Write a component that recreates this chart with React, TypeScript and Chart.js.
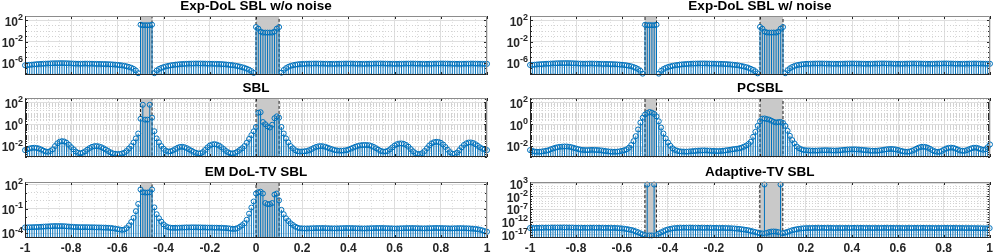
import React, { useEffect, useRef } from 'react';
import { Chart, registerables } from 'chart.js';

Chart.register(...registerables);

// ---------- data (log10 of the plotted magnitudes, x = -1 : 0.01 : 1) ----------
const X_START = -1;
const X_STEP = 0.01;
const X_COUNT = 201;
const xGrid: number[] = Array.from({ length: X_COUNT }, (_, i) => Math.round((X_START + i * X_STEP) * 100) / 100);

const xTickValues = [-1, -0.8, -0.6, -0.4, -0.2, 0, 0.2, 0.4, 0.6, 0.8, 1];
const xTickLabels = ['-1', '-0.8', '-0.6', '-0.4', '-0.2', '0', '0.2', '0.4', '0.6', '0.8', '1'];

const supportBoxes: [number, number][] = [[-0.5, -0.45], [0, 0.1]];

const expDolNoNoiseLog = [
  -6.5, -6.46, -6.42, -6.38, -6.34, -6.3, -6.27, -6.24, -6.21, -6.19,
  -6.17, -6.15, -6.13, -6.12, -6.11, -6.1, -6.1, -6.11, -6.12, -6.14,
  -6.16, -6.18, -6.2, -6.21, -6.21, -6.2, -6.19, -6.19, -6.2, -6.21,
  -6.23, -6.24, -6.25, -6.26, -6.27, -6.28, -6.3, -6.32, -6.35, -6.38,
  -6.42, -6.47, -6.53, -6.6, -6.7, -6.82, -6.97, -7.18, -7.5, -8.0,
  1.2, 1.1, 1.1, 1.1, 1.1, 1.2,
  -8.0, -7.5, -7.2, -7.0,
  -6.85, -6.72, -6.62, -6.53, -6.46, -6.4, -6.35, -6.3, -6.27, -6.24,
  -6.22, -6.2, -6.19, -6.18, -6.17, -6.17, -6.17, -6.18, -6.19, -6.2,
  -6.21, -6.22, -6.23, -6.24, -6.26, -6.28, -6.31, -6.35, -6.39, -6.44,
  -6.5, -6.57, -6.65, -6.75, -6.87, -7.0, -7.15, -7.35, -7.6, -7.95,
  0.75, 0.45, -0.1, -0.3, -0.3, -0.3, -0.3, -0.3, -0.1, 0.45, 0.75,
  -7.9, -7.4, -7.05, -6.8, -6.62, -6.5, -6.4, -6.33, -6.28,
  -6.25, -6.23, -6.21, -6.2, -6.19, -6.18, -6.18, -6.18, -6.19, -6.2,
  -6.21, -6.22, -6.23, -6.23, -6.23, -6.22, -6.21, -6.2, -6.19, -6.18,
  -6.18, -6.18, -6.19, -6.2, -6.21, -6.22, -6.23, -6.23, -6.22, -6.21,
  -6.2, -6.19, -6.18, -6.17, -6.17, -6.18, -6.19, -6.2, -6.21, -6.22,
  -6.23, -6.23, -6.22, -6.21, -6.2, -6.19, -6.18, -6.18, -6.18, -6.19,
  -6.2, -6.21, -6.22, -6.23, -6.23, -6.22, -6.21, -6.2, -6.19, -6.18,
  -6.17, -6.17, -6.18, -6.19, -6.2, -6.21, -6.22, -6.23, -6.23, -6.22,
  -6.21, -6.2, -6.19, -6.18, -6.18, -6.19, -6.2, -6.21, -6.22, -6.23,
  -6.24,
];

const expDolNoiseLog = [
  -6.45, -6.42, -6.39, -6.35, -6.31, -6.28, -6.25, -6.22, -6.2, -6.18,
  -6.16, -6.14, -6.12, -6.11, -6.1, -6.09, -6.09, -6.1, -6.11, -6.13,
  -6.15, -6.17, -6.19, -6.2, -6.2, -6.19, -6.18, -6.18, -6.19, -6.2,
  -6.22, -6.23, -6.24, -6.25, -6.26, -6.27, -6.29, -6.31, -6.34, -6.37,
  -6.41, -6.46, -6.52, -6.6, -6.7, -6.83, -7.0, -7.22, -7.55, -8.1,
  1.2, 1.1, 1.12, 1.1, 1.1, 1.2,
  -8.1, -7.55, -7.22, -7.0,
  -6.84, -6.71, -6.6, -6.52, -6.45, -6.39, -6.34, -6.3, -6.26, -6.23,
  -6.21, -6.19, -6.18, -6.17, -6.16, -6.16, -6.16, -6.17, -6.18, -6.19,
  -6.2, -6.21, -6.22, -6.23, -6.25, -6.27, -6.3, -6.34, -6.38, -6.43,
  -6.49, -6.56, -6.64, -6.74, -6.86, -7.0, -7.17, -7.38, -7.65, -8.05,
  0.78, 0.45, -0.1, -0.28, -0.3, -0.3, -0.29, -0.3, -0.1, 0.45, 0.75,
  -8.0, -7.45, -7.08, -6.82, -6.63, -6.5, -6.4, -6.33, -6.28,
  -6.24, -6.22, -6.2, -6.19, -6.18, -6.17, -6.17, -6.17, -6.18, -6.19,
  -6.2, -6.21, -6.22, -6.22, -6.22, -6.21, -6.2, -6.19, -6.18, -6.17,
  -6.17, -6.17, -6.18, -6.19, -6.2, -6.21, -6.22, -6.22, -6.21, -6.2,
  -6.19, -6.18, -6.17, -6.16, -6.16, -6.17, -6.18, -6.19, -6.2, -6.21,
  -6.22, -6.22, -6.21, -6.2, -6.19, -6.18, -6.17, -6.17, -6.17, -6.18,
  -6.19, -6.2, -6.21, -6.22, -6.22, -6.21, -6.2, -6.19, -6.18, -6.17,
  -6.16, -6.16, -6.17, -6.18, -6.19, -6.2, -6.21, -6.22, -6.22, -6.21,
  -6.2, -6.19, -6.18, -6.17, -6.17, -6.18, -6.19, -6.2, -6.21, -6.22,
  -6.22,
];

const sblLog = [
  -2.37, -2.3, -2.22, -2.17, -2.15, -2.17, -2.22, -2.32, -2.42, -2.5,
  -2.52, -2.45, -2.3, -2.0, -1.75, -1.6, -1.55, -1.58, -1.7, -1.88,
  -2.1, -2.3, -2.5, -2.62, -2.66, -2.6, -2.48, -2.33, -2.18, -2.07,
  -2.01, -2.0, -2.03, -2.1, -2.2, -2.32, -2.45, -2.57, -2.66, -2.71,
  -2.73, -2.72, -2.68, -2.6, -2.45, -2.22, -2.0, -1.67, -1.3, -0.85,
  0.5, 1.78, 0.42, 0.42, 1.78, 0.6,
  -0.64, -1.3, -1.67, -2.0,
  -2.25, -2.42, -2.5, -2.48, -2.4, -2.28, -2.16, -2.08, -2.06, -2.1,
  -2.18, -2.3, -2.42, -2.53, -2.62, -2.67, -2.66, -2.55, -2.35, -2.12,
  -1.95, -1.85, -1.82, -1.86, -1.96, -2.1, -2.27, -2.45, -2.58, -2.66,
  -2.67, -2.62, -2.5, -2.35, -2.2, -2.0, -1.7, -1.35, -1.0, -0.65,
  -0.25, 1.05, 1.1, 0.2, 0.0, -0.2, -0.3, -0.05, 0.55, 0.72, 0.6,
  -0.25, -0.85, -1.3, -1.67, -2.0, -2.2, -2.38, -2.48, -2.5,
  -2.5, -2.48, -2.45, -2.38, -2.28, -2.17, -2.08, -2.02, -2.0, -2.02,
  -2.07, -2.14, -2.22, -2.3, -2.36, -2.4, -2.42, -2.42, -2.41, -2.38,
  -2.32, -2.24, -2.15, -2.06, -1.99, -1.94, -1.91, -1.9, -1.91, -1.93,
  -1.99, -2.08, -2.2, -2.33, -2.44, -2.5, -2.5, -2.44, -2.3, -2.12,
  -1.95, -1.83, -1.77, -1.76, -1.8, -1.9, -2.06, -2.27, -2.48, -2.64,
  -2.72, -2.73, -2.64, -2.45, -2.2, -1.95, -1.76, -1.65, -1.61, -1.62,
  -1.7, -1.86, -2.08, -2.33, -2.56, -2.7, -2.72, -2.6, -2.38, -2.12,
  -1.9, -1.75, -1.68, -1.67, -1.72, -1.83, -1.98, -2.12, -2.24, -2.32,
  -2.37,
];

const pcsblLog = [
  -2.37, -2.45, -2.5, -2.52, -2.52, -2.5, -2.47, -2.43, -2.38, -2.3,
  -2.22, -2.15, -2.1, -2.07, -2.05, -2.04, -2.04, -2.06, -2.1, -2.16,
  -2.22, -2.28, -2.33, -2.36, -2.37, -2.37, -2.36, -2.35, -2.35, -2.36,
  -2.38, -2.4, -2.43, -2.46, -2.49, -2.51, -2.52, -2.52, -2.51, -2.48,
  -2.44, -2.38, -2.3, -2.15, -1.91, -1.55, -1.09, -0.48, 0.15, 0.6,
  0.88, 1.03, 1.12, 1.06, 0.94, 0.72,
  0.27, -0.3, -0.85, -1.3,
  -1.67, -1.97, -2.2, -2.35, -2.43, -2.48, -2.5, -2.51, -2.51, -2.5,
  -2.48, -2.46, -2.44, -2.42, -2.41, -2.4, -2.4, -2.41, -2.42, -2.44,
  -2.45, -2.46, -2.46, -2.45, -2.43, -2.4, -2.37, -2.34, -2.3, -2.27,
  -2.24, -2.2, -2.14, -2.06, -1.95, -1.8, -1.61, -1.15, -0.7, -0.15,
  0.27, 0.51, 0.53, 0.47, 0.42, 0.32, 0.22, 0.16, 0.2, 0.21, 0.12,
  -0.15, -0.6, -1.06, -1.45, -1.76, -2.04, -2.2, -2.3, -2.36,
  -2.39, -2.4, -2.41, -2.42, -2.42, -2.41, -2.4, -2.39, -2.38, -2.38,
  -2.39, -2.4, -2.41, -2.41, -2.4, -2.38, -2.36, -2.34, -2.32, -2.31,
  -2.3, -2.3, -2.31, -2.32, -2.34, -2.36, -2.38, -2.4, -2.42, -2.43,
  -2.43, -2.42, -2.4, -2.37, -2.33, -2.3, -2.28, -2.27, -2.28, -2.31,
  -2.36, -2.42, -2.47, -2.51, -2.52, -2.5, -2.44, -2.35, -2.24, -2.14,
  -2.08, -2.06, -2.08, -2.15, -2.26, -2.38, -2.48, -2.53, -2.52, -2.45,
  -2.33, -2.22, -2.16, -2.14, -2.16, -2.23, -2.32, -2.4, -2.44, -2.43,
  -2.37, -2.28, -2.2, -2.15, -2.15, -2.2, -2.28, -2.34, -2.3, -2.1,
  -1.85,
];

const emDolTvLog = [
  -3.3, -3.29, -3.28, -3.27, -3.26, -3.25, -3.24, -3.22, -3.2, -3.18,
  -3.17, -3.15, -3.14, -3.13, -3.13, -3.13, -3.14, -3.15, -3.17, -3.19,
  -3.21, -3.23, -3.25, -3.26, -3.27, -3.27, -3.27, -3.27, -3.28, -3.28,
  -3.29, -3.3, -3.3, -3.31, -3.32, -3.33, -3.34, -3.36, -3.4, -3.45,
  -3.5, -3.55, -3.6, -3.55, -3.38, -3.05, -2.62, -2.12, -1.3, -0.4,
  1.38, 1.04, 1.0, 1.0, 1.04, 1.38,
  -0.83, -1.67, -2.17, -2.58,
  -2.92, -3.15, -3.28, -3.33, -3.35, -3.35, -3.34, -3.33, -3.32, -3.31,
  -3.3, -3.3, -3.29, -3.29, -3.29, -3.3, -3.3, -3.31, -3.31, -3.32,
  -3.32, -3.32, -3.33, -3.33, -3.34, -3.35, -3.36, -3.38, -3.41, -3.45,
  -3.48, -3.47, -3.38, -3.22, -3.02, -2.78, -2.35, -1.6, -0.85, -0.1,
  0.88, 1.04, 1.1, 0.88, -0.29, -0.42, -0.42, -0.29, 0.75, 0.88, 0.04,
  -1.13, -1.67, -2.17, -2.5, -2.79, -3.0, -3.2, -3.33, -3.4,
  -3.42, -3.43, -3.43, -3.42, -3.41, -3.4, -3.39, -3.38, -3.38, -3.38,
  -3.39, -3.4, -3.41, -3.42, -3.42, -3.42, -3.41, -3.4, -3.39, -3.38,
  -3.38, -3.38, -3.39, -3.4, -3.41, -3.42, -3.43, -3.43, -3.42, -3.41,
  -3.4, -3.39, -3.38, -3.37, -3.37, -3.38, -3.39, -3.4, -3.41, -3.42,
  -3.43, -3.43, -3.42, -3.41, -3.4, -3.39, -3.38, -3.38, -3.38, -3.39,
  -3.4, -3.41, -3.42, -3.42, -3.41, -3.4, -3.39, -3.38, -3.37, -3.37,
  -3.38, -3.39, -3.4, -3.41, -3.42, -3.42, -3.41, -3.4, -3.39, -3.39,
  -3.4, -3.41, -3.42, -3.44, -3.46, -3.48, -3.52, -3.58, -3.66, -3.75,
  -3.83,
];

const adaptiveTvLog = [
  -14.4, -14.38, -14.36, -14.34, -14.32, -14.3, -14.28, -14.26, -14.25, -14.24,
  -14.23, -14.22, -14.21, -14.2, -14.2, -14.2, -14.21, -14.22, -14.23, -14.25,
  -14.27, -14.29, -14.3, -14.31, -14.31, -14.3, -14.29, -14.28, -14.28, -14.29,
  -14.3, -14.31, -14.32, -14.33, -14.34, -14.35, -14.36, -14.38, -14.42, -14.48,
  -14.55, -14.65, -14.78, -14.95, -15.15, -15.4, -15.7, -16.05, -16.45, -16.85,
  -17.2, 2.6, -17.3, -17.3, 2.6, -17.2,
  -16.6, -16.1, -15.65, -15.25,
  -14.95, -14.72, -14.56, -14.45, -14.38, -14.33, -14.3, -14.28, -14.27, -14.27,
  -14.27, -14.28, -14.29, -14.3, -14.31, -14.32, -14.32, -14.32, -14.32, -14.33,
  -14.34, -14.35, -14.36, -14.37, -14.38, -14.4, -14.43, -14.47, -14.52, -14.58,
  -14.65, -14.74, -14.85, -14.98, -15.13, -15.3, -15.5, -15.72, -15.95, -16.2,
  -16.4, -16.5, 2.6, -16.3, -16.0, -15.8, -15.75, -15.8, -16.0, 2.6, -16.4,
  -16.2, -15.9, -15.6, -15.3, -15.05, -14.85, -14.7, -14.58, -14.5,
  -14.45, -14.42, -14.4, -14.38, -14.37, -14.36, -14.35, -14.35, -14.35, -14.35,
  -14.36, -14.37, -14.38, -14.39, -14.4, -14.4, -14.39, -14.38, -14.37, -14.36,
  -14.35, -14.34, -14.34, -14.34, -14.35, -14.36, -14.37, -14.38, -14.39, -14.4,
  -14.4, -14.39, -14.38, -14.37, -14.36, -14.35, -14.35, -14.35, -14.36, -14.37,
  -14.38, -14.39, -14.4, -14.4, -14.39, -14.38, -14.37, -14.36, -14.35, -14.34,
  -14.34, -14.35, -14.36, -14.37, -14.38, -14.39, -14.4, -14.4, -14.39, -14.38,
  -14.37, -14.36, -14.35, -14.35, -14.36, -14.37, -14.38, -14.39, -14.4, -14.41,
  -14.42, -14.42, -14.42, -14.43, -14.44, -14.46, -14.48, -14.5, -14.52, -14.5,
  -14.45,
];

// ---------- panel definitions ----------
type PanelDef = {
  title: string;
  logs: number[];
  range: [number, number];
  labelExps: number[];
  subMinor: boolean;
};

const panels: PanelDef[] = [
  { title: 'Exp-DoL SBL w/o noise', logs: expDolNoNoiseLog, range: [-8.35, 2.85], labelExps: [2, -2, -6], subMinor: false },
  { title: 'Exp-DoL SBL w/ noise', logs: expDolNoiseLog, range: [-8.35, 2.85], labelExps: [2, -2, -6], subMinor: false },
  { title: 'SBL', logs: sblLog, range: [-3, 2.4], labelExps: [2, 0, -2], subMinor: true },
  { title: 'PCSBL', logs: pcsblLog, range: [-3, 2.4], labelExps: [2, 0, -2], subMinor: true },
  { title: 'EM DoL-TV SBL', logs: emDolTvLog, range: [-4.6, 2.3], labelExps: [2, -1, -4], subMinor: false },
  { title: 'Adaptive-TV SBL', logs: adaptiveTvLog, range: [-18.3, 3.6], labelExps: [3, -2, -7, -12, -17], subMinor: false },
];

// ---------- layout ----------
const COLS = [
  { left: 0, w: 496, yAxisW: 25, padRight: 9 },
  { left: 498, w: 498, yAxisW: 32, padRight: 6 },
];
const ROWS = [
  { top: 0, h: 80, padTop: 16, xAxisH: 5, showX: false },
  { top: 80, h: 84, padTop: 18, xAxisH: 7, showX: false },
  { top: 164, h: 88, padTop: 18, xAxisH: 14, showX: true },
];

const FONT = '"Liberation Sans", Arial, Helvetica, sans-serif';
const BLUE = '#0072BD';
const GRID_MAJOR = '#dedede';
const GRID_MINOR_Y = '#d2d2d2';
const GRID_MINOR_X = '#e2e2e2';
const AXIS = '#262626';

const near = (a: number, b: number) => Math.abs(a - b) < 1e-6;
const isMajorX = (v: number | undefined) => v !== undefined && xTickValues.some((t) => near(t, v));

function makeConfig(p: PanelDef, col: typeof COLS[0], row: typeof ROWS[0]): any {
  const [lo, hi] = p.range;
  const yMin = Math.pow(10, lo);
  const yMax = Math.pow(10, hi);
  const isMajorY = (v: number | undefined) => v !== undefined && p.labelExps.some((e) => near(Math.log10(v), e));

  const yGridVals: number[] = [];
  for (let e = Math.floor(lo); e <= Math.ceil(hi); e++) {
    const ks = p.subMinor ? [1, 2, 3, 4, 5, 6, 7, 8, 9] : [1];
    ks.forEach((k) => {
      const v = k * Math.pow(10, e);
      if (v >= yMin && v <= yMax) yGridVals.push(v);
    });
  }
  const xGridVals: number[] = [];
  for (let k = -20; k <= 20; k++) xGridVals.push(k / 20);

  const pts = xGrid.map((x, i) => ({ x, y: Math.pow(10, p.logs[i]) }));

  const boxSets = supportBoxes.map(([a, b]) => ({
    type: 'line',
    data: [
      { x: a, y: yMin },
      { x: a, y: yMax },
      { x: b, y: yMax },
      { x: b, y: yMin },
    ],
    borderColor: '#222222',
    borderWidth: 1,
    borderDash: [3, 2],
    backgroundColor: '#c9c9c9',
    fill: 'start',
    pointRadius: 0,
    tension: 0,
    order: 3,
  }));

  const decor = {
    id: 'decor',
    afterDraw(chart: any) {
      const { ctx, chartArea: a } = chart;
      const xs = chart.scales.x;
      const ys = chart.scales.y;
      ctx.save();
      // tick marks
      ctx.strokeStyle = AXIS;
      ctx.lineWidth = 1;
      ctx.beginPath();
      xTickValues.forEach((v) => {
        const px = Math.round(xs.getPixelForValue(v)) + 0.5;
        ctx.moveTo(px, a.top);
        ctx.lineTo(px, a.top + 3);
        ctx.moveTo(px, a.bottom);
        ctx.lineTo(px, a.bottom - 3);
      });
      ys.ticks.forEach((t: any) => {
        const py = Math.round(ys.getPixelForValue(t.value)) + 0.5;
        const len = isMajorY(t.value) ? 3 : 2;
        ctx.moveTo(a.left, py);
        ctx.lineTo(a.left + len, py);
        ctx.moveTo(a.right, py);
        ctx.lineTo(a.right - len, py);
      });
      ctx.stroke();
      // frame
      const L = Math.round(a.left) + 0.5;
      const R = Math.round(a.right) - 0.5;
      const T = Math.round(a.top) + 0.5;
      const B = Math.round(a.bottom) - 0.5;
      ctx.strokeStyle = '#8c8c8c';
      ctx.beginPath();
      ctx.moveTo(L, T);
      ctx.lineTo(R, T);
      ctx.lineTo(R, B);
      ctx.stroke();
      ctx.strokeStyle = AXIS;
      ctx.beginPath();
      ctx.moveTo(L, T);
      ctx.lineTo(L, B);
      ctx.lineTo(R, B);
      ctx.stroke();
      // y tick labels: 10 with raised exponent
      ctx.fillStyle = AXIS;
      ctx.textBaseline = 'middle';
      ctx.textAlign = 'left';
      p.labelExps.forEach((e) => {
        const py = ys.getPixelForValue(Math.pow(10, e));
        const expStr = String(e);
        ctx.font = `bold 9px ${FONT}`;
        const ew = ctx.measureText(expStr).width;
        ctx.font = `bold 12px ${FONT}`;
        const bw = ctx.measureText('10').width;
        const right = a.left - 2;
        ctx.fillText('10', right - ew - bw, py + 2);
        ctx.font = `bold 9px ${FONT}`;
        ctx.fillText(expStr, right - ew, py - 3);
      });
      // title
      ctx.fillStyle = '#000000';
      ctx.font = `bold 13.5px ${FONT}`;
      ctx.textAlign = 'center';
      ctx.fillText(p.title, (a.left + a.right) / 2, a.top - 10);
      ctx.restore();
    },
  };

  return {
    type: 'scatter',
    data: {
      datasets: [
        ...boxSets,
        {
          type: 'bar',
          data: pts,
          backgroundColor: BLUE,
          borderWidth: 0,
          barThickness: 1,
          inflateAmount: 0,
          grouped: false,
          order: 2,
        },
        {
          type: 'line',
          data: pts,
          showLine: false,
          pointStyle: 'circle',
          pointRadius: 2.5,
          pointBorderWidth: 1,
          pointBorderColor: BLUE,
          pointBackgroundColor: 'rgba(0,0,0,0)',
          clip: false,
          order: 1,
        },
      ],
    },
    options: {
      animation: false,
      responsive: false,
      devicePixelRatio: 1,
      events: [],
      layout: { padding: { left: 0, right: col.padRight, top: row.padTop, bottom: 0 } },
      plugins: { legend: { display: false }, tooltip: { enabled: false }, title: { display: false } },
      scales: {
        x: {
          type: 'linear',
          min: -1,
          max: 1,
          offset: false,
          afterBuildTicks: (s: any) => {
            s.ticks = xGridVals.map((v) => ({ value: v }));
          },
          afterFit: (s: any) => {
            s.height = row.xAxisH;
          },
          ticks: {
            display: row.showX,
            autoSkip: false,
            maxRotation: 0,
            minRotation: 0,
            padding: 3,
            color: AXIS,
            font: { family: FONT, size: 12, weight: 'bold' },
            callback: (v: number) => {
              const j = xTickValues.findIndex((t) => near(t, v));
              return j >= 0 ? xTickLabels[j] : '';
            },
          },
          grid: {
            offset: false,
            drawTicks: false,
            color: (c: any) => (isMajorX(c.tick?.value) ? GRID_MAJOR : GRID_MINOR_X),
          },
          border: { display: false, dash: (c: any) => (isMajorX(c.tick?.value) ? [] : [1, 2]) },
        },
        y: {
          type: 'logarithmic',
          min: yMin,
          max: yMax,
          afterBuildTicks: (s: any) => {
            s.ticks = yGridVals.map((v) => ({ value: v }));
          },
          afterFit: (s: any) => {
            s.width = col.yAxisW;
          },
          ticks: { display: false },
          grid: {
            drawTicks: false,
            color: (c: any) => (isMajorY(c.tick?.value) ? GRID_MAJOR : GRID_MINOR_Y),
          },
          border: { display: false, dash: (c: any) => (isMajorY(c.tick?.value) ? [] : [1, 2]) },
        },
      },
    },
    plugins: [decor],
  };
}

function Panel({ idx }: { idx: number }) {
  const ref = useRef<HTMLCanvasElement>(null);
  const col = COLS[idx % 2];
  const row = ROWS[Math.floor(idx / 2)];
  useEffect(() => {
    if (!ref.current) return;
    const chart = new Chart(ref.current, makeConfig(panels[idx], col, row));
    return () => chart.destroy();
  }, [idx]);
  return (
    <canvas
      ref={ref}
      width={col.w}
      height={row.h}
      style={{ position: 'absolute', left: col.left, top: row.top, width: col.w, height: row.h }}
    />
  );
}

export default function App() {
  return (
    <div style={{ position: 'fixed', left: 0, top: 0, width: 996, height: 252, background: '#ffffff', overflow: 'hidden' }}>
      {panels.map((_, i) => (
        <Panel key={i} idx={i} />
      ))}
    </div>
  );
}
